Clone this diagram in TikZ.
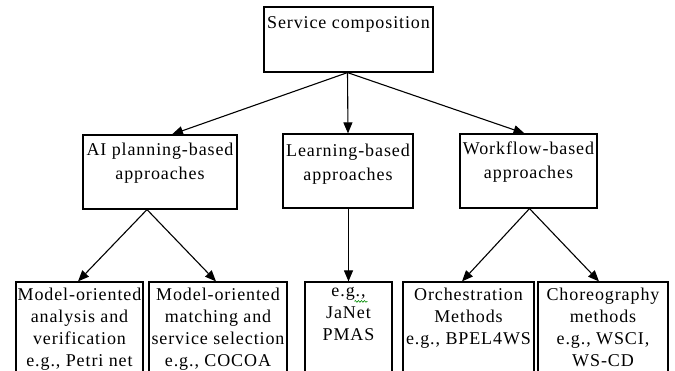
\documentclass[tikz,border=0pt]{standalone}
\usepackage{fontspec}
\setmainfont[LetterSpace=5]{Liberation Serif}
\usetikzlibrary{arrows.meta,decorations.pathmorphing}
\tikzset{
  box/.style={draw=black, line width=1.2pt, inner sep=0pt, rectangle},
  lbl/.style={anchor=north, align=center, inner sep=0pt, font=\fontsize{18}{22}\selectfont},
  midlbl/.style={lbl, font=\fontsize{18}{24}\selectfont},
  conn/.style={draw=black, line width=1.1pt, -{Triangle[length=11pt,width=9pt]}}
}
\begin{document}
\begin{tikzpicture}[x=1pt,y=-1pt]
\useasboundingbox (0,0) rectangle (675,371);
\fill[white] (0,0) rectangle (675,371);
\clip (0,0) rectangle (675,371);
% boxes
\node[box, minimum width=169pt, minimum height=65pt] (top) at (348.5,39.5) {};
\node[box, minimum width=154pt, minimum height=74pt] (ai) at (160,172) {};
\node[box, minimum width=130pt, minimum height=74pt] (learn) at (348,171) {};
\node[box, minimum width=137pt, minimum height=74pt] (work) at (528.5,171) {};
\node[box, minimum width=127pt, minimum height=100pt] (b1) at (79.5,332) {};
\node[box, minimum width=138pt, minimum height=100pt] (b2) at (218,332) {};
\node[box, minimum width=87pt, minimum height=100pt] (b3) at (348.5,332) {};
\node[box, minimum width=131pt, minimum height=100pt] (b4) at (468.5,332) {};
\node[box, minimum width=130pt, minimum height=100pt] (b5) at (603,332) {};
% labels
\node[lbl] (ttop) at ([yshift=-10pt]top.north) {Service composition};
\node[midlbl] (tai) at ([yshift=-8pt]ai.north) {AI planning-based\\approaches};
\node[midlbl] (tlearn) at ([yshift=-10pt]learn.north) {Learning-based\\approaches};
\node[midlbl] (twork) at ([yshift=-8pt]work.north) {Workflow-based\\approaches};
\node[lbl] (tb1) at ([yshift=-6pt]b1.north) {Model-oriented\\analysis and\\verification\\e.g., Petri net};
\node[lbl] (tb2) at ([yshift=-6pt]b2.north) {Model-oriented\\matching and\\service selection\\e.g., COCOA};
\node[lbl] (tb3) at ([yshift=-6pt]b3.north) {e.g.,\\JaNet\\PMAS};
\node[lbl] (tb4) at ([yshift=-6pt]b4.north) {Orchestration\\Methods\\e.g., BPEL4WS};
\node[lbl] (tb5) at ([yshift=-6pt]b5.north) {Choreography\\methods\\e.g., WSCI,\\WS-CD};
% spell-check squiggle under "e.g.,"
\coordinate (sq1) at ([xshift=6pt,yshift=-20pt]b3.north);
\coordinate (sq2) at ([xshift=19pt,yshift=-20pt]b3.north);
\draw[green!55!black, line width=0.6pt, decorate, decoration={snake, amplitude=0.9pt, segment length=3pt}] (sq1) -- (sq2);
% connectors
\draw[conn] ([xshift=-1pt]top.south) -- ([xshift=12pt]ai.north);
\draw[conn] ([xshift=-1pt]top.south) -- (learn.north);
\draw[conn] ([xshift=-1pt]top.south) -- ([xshift=-4pt]work.north);
\draw[conn] ([xshift=-13pt]ai.south) -- ([xshift=-1.5pt]b1.north);
\draw[conn] ([xshift=-13pt]ai.south) -- ([xshift=-2pt]b2.north);
\draw[conn] (b3.north |- learn.south) -- (b3.north);
\draw[conn] ([xshift=1pt]work.south) -- ([xshift=-6.5pt]b4.north);
\draw[conn] ([xshift=1pt]work.south) -- ([xshift=-4pt]b5.north);
\end{tikzpicture}
\end{document}
